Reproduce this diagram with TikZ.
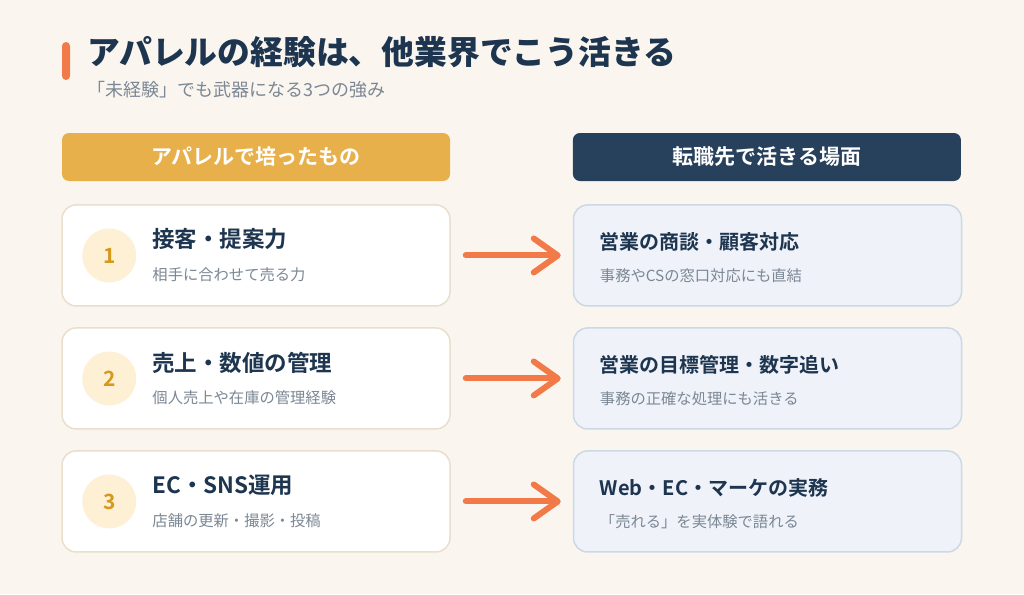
\documentclass[tikz,border=0pt]{standalone}
\usepackage{fontspec}
\setmainfont{Noto Sans CJK JP}[BoldFont={Noto Sans CJK JP Bold}]
\newfontfamily\titlefont{Noto Sans CJK JP Black}
\usepackage{xcolor}
\usetikzlibrary{positioning, arrows.meta}
\definecolor{bgcream}{HTML}{FAF6EF}
\definecolor{accent}{HTML}{F27A48}
\definecolor{navy}{HTML}{1E3550}
\definecolor{graytext}{HTML}{7B8794}
\definecolor{goldhead}{HTML}{E8B04B}
\definecolor{navyhead}{HTML}{27405C}
\definecolor{cardline}{HTML}{E9DFCC}
\definecolor{numfill}{HTML}{FDF0D5}
\definecolor{numtext}{HTML}{D59A1D}
\definecolor{bluefill}{HTML}{EFF3F9}
\definecolor{blueline}{HTML}{CBD8E6}
\tikzset{
  header/.style={rectangle, rounded corners=7pt, minimum width=388pt, minimum height=48pt, text=white, font=\bfseries\fontsize{21}{24}\selectfont},
  skillcard/.style={rectangle, rounded corners=14pt, minimum width=388pt, minimum height=101pt, draw=cardline, line width=1.5pt, fill=white},
  scenecard/.style={rectangle, rounded corners=14pt, minimum width=388pt, minimum height=101pt, draw=blueline, line width=1.5pt, fill=bluefill},
  numdot/.style={circle, minimum size=54pt, inner sep=0pt, fill=numfill, text=numtext, font=\bfseries\fontsize{21}{22}\selectfont},
  skilltitle/.style={anchor=west, inner sep=0pt, text=navy, font=\bfseries\fontsize{22.5}{26}\selectfont},
  scenetitle/.style={anchor=west, inner sep=0pt, text=navy, font=\bfseries\fontsize{20}{23}\selectfont},
  note/.style={anchor=west, inner sep=0pt, text=graytext, font=\fontsize{15.3}{18}\selectfont},
  flow/.style={draw=accent, line width=6pt, line cap=round, shorten <=15pt, shorten >=12pt, -{Straight Barb[length=24pt, width=34pt, round]}}
}
\begin{document}
\begin{tikzpicture}[x=1pt, y=-1pt, node distance=20.5pt]
  \fill[bgcream] (0,0) rectangle (1024,594);
  \useasboundingbox (0,0) rectangle (1024,594);

  % title
  \fill[accent, rounded corners=4pt] (62,42) rectangle (70,80);
  \node (title) [anchor=west, inner sep=0pt, text=navy, font=\titlefont\fontsize{32.8}{36}\selectfont] at (87,52) {アパレルの経験は、他業界でこう活きる};
  \node (subtitle) [note, font=\fontsize{18}{20}\selectfont] at (87,90) {「未経験」でも武器になる3つの強み};

  % column headers
  \node (hleft) [header, fill=goldhead] at (256,157) {アパレルで培ったもの};
  \node (hright) [header, fill=navyhead, right=122.5pt of hleft] {転職先で活きる場面};

  % left cards
  \node (left1) [skillcard, below=23pt of hleft] {};
  \node (left2) [skillcard, below=of left1] {};
  \node (left3) [skillcard, below=of left2] {};

  % right cards
  \node (right1) [scenecard, right=122pt of left1] {};
  \node (right2) [scenecard, right=122pt of left2] {};
  \node (right3) [scenecard, right=122pt of left3] {};

  % numbers
  \node (num1) [numdot] at ([xshift=48pt]left1.west) {1};
  \node (num2) [numdot] at ([xshift=48pt]left2.west) {2};
  \node (num3) [numdot] at ([xshift=48pt]left3.west) {3};

  % left texts
  \node (skill1) [skilltitle] at ([xshift=91pt, yshift=16pt]left1.west) {接客・提案力};
  \node (skillnote1) [note] at ([xshift=91pt, yshift=-19pt]left1.west) {相手に合わせて売る力};
  \node (skill2) [skilltitle] at ([xshift=91pt, yshift=16pt]left2.west) {売上・数値の管理};
  \node (skillnote2) [note] at ([xshift=91pt, yshift=-19pt]left2.west) {個人売上や在庫の管理経験};
  \node (skill3) [skilltitle] at ([xshift=91pt, yshift=16pt]left3.west) {EC・SNS運用};
  \node (skillnote3) [note] at ([xshift=91pt, yshift=-19pt]left3.west) {店舗の更新・撮影・投稿};

  % right texts
  \node (scene1) [scenetitle] at ([xshift=27pt, yshift=14pt]right1.west) {営業の商談・顧客対応};
  \node (scenenote1) [note] at ([xshift=27pt, yshift=-20pt]right1.west) {事務やCSの窓口対応にも直結};
  \node (scene2) [scenetitle] at ([xshift=27pt, yshift=14pt]right2.west) {営業の目標管理・数字追い};
  \node (scenenote2) [note] at ([xshift=27pt, yshift=-20pt]right2.west) {事務の正確な処理にも活きる};
  \node (scene3) [scenetitle] at ([xshift=27pt, yshift=14pt]right3.west) {Web・EC・マーケの実務};
  \node (scenenote3) [note] at ([xshift=27pt, yshift=-20pt]right3.west) {「売れる」を実体験で語れる};

  % arrows
  \draw [flow] (left1) -- (right1);
  \draw [flow] (left2) -- (right2);
  \draw [flow] (left3) -- (right3);
\end{tikzpicture}
\end{document}
